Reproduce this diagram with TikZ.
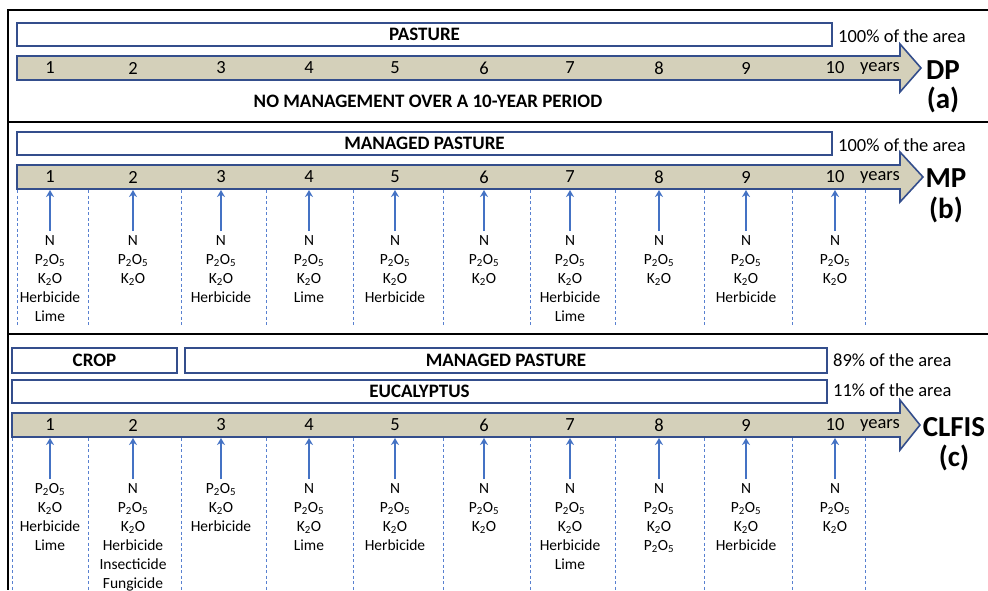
\documentclass[tikz,border=0pt]{standalone}
\usepackage{fontspec}
\setmainfont{Carlito}
\usetikzlibrary{arrows.meta}
\definecolor{boxblue}{RGB}{52,78,140}
\definecolor{tlfill}{RGB}{212,208,186}
\definecolor{arrblue}{RGB}{68,114,196}
\definecolor{dashblue}{RGB}{88,128,208}
\newcommand\pfive{P\textsubscript{2}O\textsubscript{5}}
\newcommand\ktwo{K\textsubscript{2}O}
\tikzset{
  bar/.style={draw=boxblue, line width=1.6pt, fill=white, inner sep=0pt,
    font=\fontsize{19}{20}\selectfont\bfseries},
  timeline/.style={draw=boxblue, line width=1.6pt, fill=tlfill, line join=miter},
  titletext/.style={font=\fontsize{19}{20}\selectfont\bfseries},
  num/.style={font=\fontsize{18.5}{20}\selectfont, inner sep=0pt},
  pct/.style={font=\fontsize{18.5}{20}\selectfont, anchor=west, inner sep=0pt},
  sys/.style={font=\fontsize{29}{30}\selectfont\bfseries, inner sep=0pt},
  lab/.style={font=\fontsize{15.5}{19}\selectfont, align=center, anchor=north, inner sep=0pt},
  appl/.style={draw=arrblue, line width=1.8pt, -{Stealth[length=7pt,width=8pt]}},
  sepline/.style={draw=dashblue, line width=0.8pt, dash pattern=on 3pt off 2.5pt},
  framel/.style={line width=2.8pt, black}
}
\begin{document}
\begin{tikzpicture}[x=1pt,y=-1pt]
\useasboundingbox (0,0) rectangle (988,590);
% frame
\draw[framel] (988,10) -- (8,10) -- (8,590);
\draw[framel] (8,122) -- (988,122);
\draw[framel] (8,334) -- (988,334);

% ---------------- panel (a)
\node[bar, minimum width=815pt, minimum height=23pt] (pa) at (424.5,34.5) {PASTURE};
\node[pct] (pcta) at (838,36) {100\% of the area};
\draw[timeline] (17,56) -- (900,56) -- (900,44) -- (921,68) -- (900,92) -- (900,80) -- (17,80) -- cycle;
\foreach \x [count=\i] in {50,133,221,309,395,484,570,659,746,835}
  \node[num] (na\i) at (\x,68) {\i};
\node[num] (ya) at (880,68) {years};
\node[sys] (dp) at (943,70) {DP};
\node[sys] (dpa) at (943,100) {(a)};
\node[titletext] (nom) at (428,101) {NO MANAGEMENT OVER A 10-YEAR PERIOD};

% ---------------- panel (b)
\node[bar, minimum width=815pt, minimum height=23pt] (pb) at (424.5,143.5) {MANAGED PASTURE};
\node[pct] (pctb) at (838,145) {100\% of the area};
\draw[timeline] (17,165) -- (900,165) -- (900,152) -- (923,177) -- (900,202) -- (900,189) -- (17,189) -- cycle;
\foreach \x [count=\i] in {50,133,221,309,395,484,570,659,746,835}
  \node[num] (nb\i) at (\x,177) {\i};
\node[num] (yb) at (880,177) {years};
\node[sys] (mp) at (946,178) {MP};
\node[sys] (mpb) at (946,210) {(b)};
\foreach \x in {17,88,181,266,353,443,530,615,704,792,865}
  \draw[sepline] (\x,190) -- (\x,326);
\foreach \x/\t [count=\i] in {
  50/{N\\\pfive\\\ktwo\\Herbicide\\Lime},
  133/{N\\\pfive\\\ktwo},
  221/{N\\\pfive\\\ktwo\\Herbicide},
  309/{N\\\pfive\\\ktwo\\Lime},
  395/{N\\\pfive\\\ktwo\\Herbicide},
  484/{N\\\pfive\\\ktwo},
  570/{N\\\pfive\\\ktwo\\Herbicide\\Lime},
  659/{N\\\pfive\\\ktwo},
  746/{N\\\pfive\\\ktwo\\Herbicide},
  835/{N\\\pfive\\\ktwo}}
{
  \node[lab] (lb\i) at (\x,235) {\t};
  \coordinate (tb\i) at (\x,190);
  \draw[appl] ([yshift=4pt]lb\i.north) -- (tb\i);
}

% ---------------- panel (c)
\node[bar, minimum width=165pt, minimum height=25pt] (crop) at (94.5,360.5) {CROP};
\node[bar, minimum width=642pt, minimum height=25pt] (pc) at (506,360.5) {MANAGED PASTURE};
\node[bar, minimum width=815pt, minimum height=23pt] (euc) at (419.5,391.5) {EUCALYPTUS};
\node[pct] (pctc1) at (833,360) {89\% of the area};
\node[pct] (pctc2) at (833,390) {11\% of the area};
\draw[timeline] (12,413) -- (900,413) -- (900,400) -- (920,425) -- (900,450) -- (900,437) -- (12,437) -- cycle;
\foreach \x [count=\i] in {50,133,221,309,395,484,570,659,746,835}
  \node[num] (nc\i) at (\x,425) {\i};
\node[num] (yc) at (880,425) {years};
\node[sys] (clfis) at (954,427) {CLFIS};
\node[sys] (clc) at (954,458) {(c)};
\foreach \x in {12,88,181,266,353,443,530,615,704,792,865}
  \draw[sepline] (\x,438) -- (\x,590);
\foreach \x/\t [count=\i] in {
  50/{\pfive\\\ktwo\\Herbicide\\Lime},
  133/{N\\\pfive\\\ktwo\\Herbicide\\Insecticide\\Fungicide},
  221/{\pfive\\\ktwo\\Herbicide},
  309/{N\\\pfive\\\ktwo\\Lime},
  395/{N\\\pfive\\\ktwo\\Herbicide},
  484/{N\\\pfive\\\ktwo},
  570/{N\\\pfive\\\ktwo\\Herbicide\\Lime},
  659/{N\\\pfive\\\ktwo\\\pfive},
  746/{N\\\pfive\\\ktwo\\Herbicide},
  835/{N\\\pfive\\\ktwo}}
{
  \node[lab] (lc\i) at (\x,483) {\t};
  \coordinate (tc\i) at (\x,438);
  \draw[appl] ([yshift=4pt]lc\i.north) -- (tc\i);
}
\end{tikzpicture}
\end{document}
